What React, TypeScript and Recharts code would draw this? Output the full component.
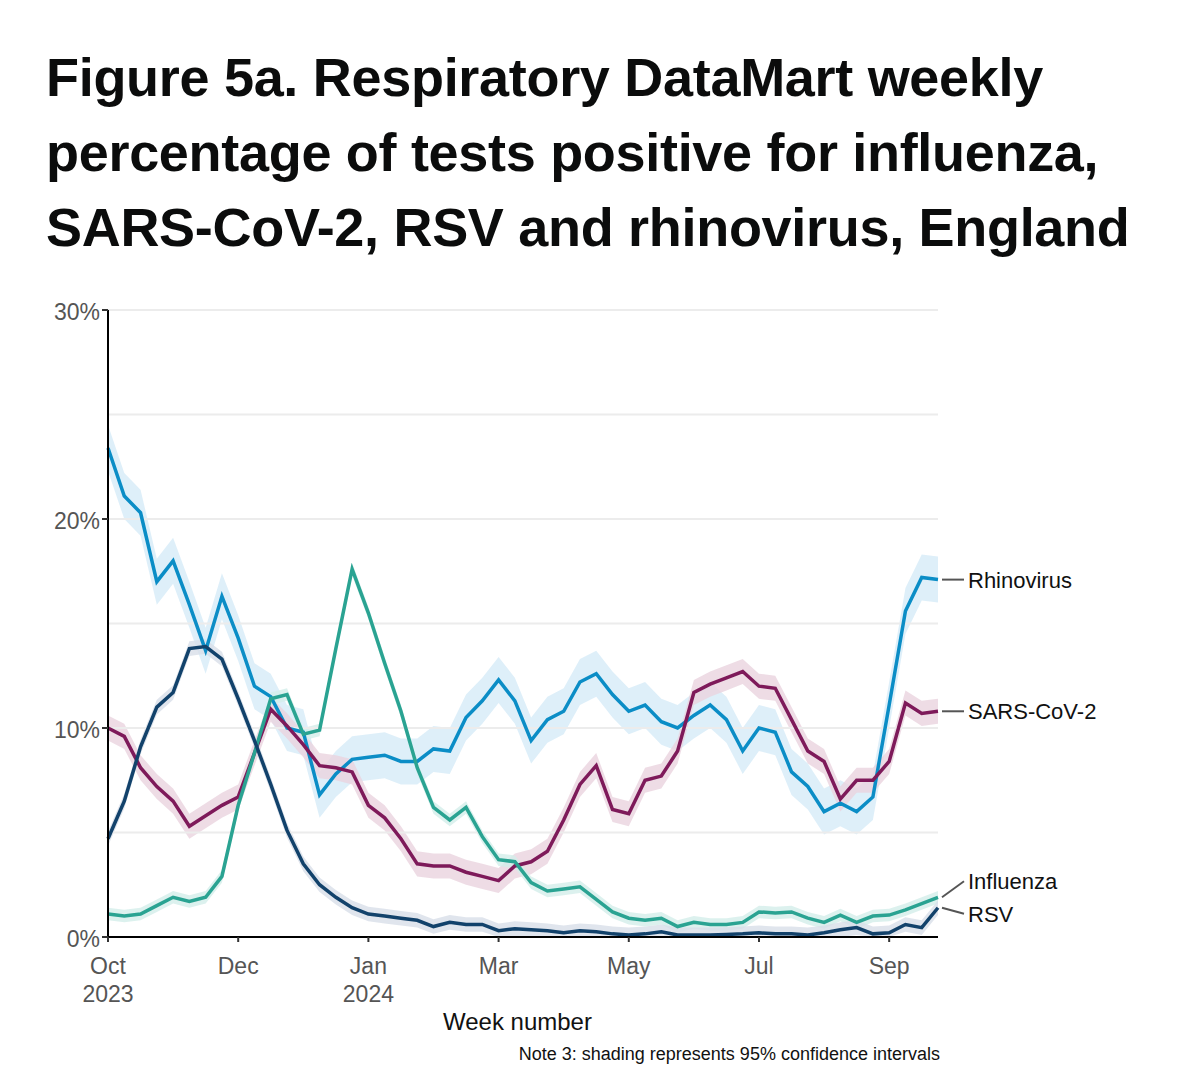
import React from "react";
import {
  ComposedChart,
  Line,
  Area,
  XAxis,
  YAxis,
  ReferenceLine,
} from "recharts";

// weekly percentage positive, week 0 = start of Oct 2023
const rhinovirus = [
  23.4, 21.1, 20.3, 17.0, 18.0, 15.9, 13.7, 16.3, 14.3, 12.0, 11.5, 10.0, 9.8,
  6.8, 7.8, 8.5, 8.6, 8.7, 8.4, 8.4, 9.0, 8.9, 10.5, 11.3, 12.3, 11.3, 9.4,
  10.4, 10.8, 12.2, 12.6, 11.6, 10.8, 11.1, 10.3, 10.0, 10.6, 11.1, 10.4, 8.9,
  10.0, 9.8, 7.9, 7.2, 6.0, 6.4, 6.0, 6.7, 11.1, 15.6, 17.2, 17.1,
];
const sarsCov2 = [
  10.0, 9.6, 8.1, 7.2, 6.5, 5.3, 5.8, 6.3, 6.7, 8.8, 10.9, 10.1, 9.2, 8.2,
  8.1, 7.9, 6.3, 5.7, 4.7, 3.5, 3.4, 3.4, 3.1, 2.9, 2.7, 3.4, 3.6, 4.1, 5.6,
  7.3, 8.2, 6.1, 5.9, 7.5, 7.7, 8.9, 11.7, 12.1, 12.4, 12.7, 12.0, 11.9, 10.4,
  8.9, 8.4, 6.6, 7.5, 7.5, 8.4, 11.2, 10.7, 10.8,
];
const influenza = [
  1.1, 1.0, 1.1, 1.5, 1.9, 1.7, 1.9, 2.9, 6.3, 8.8, 11.4, 11.6, 9.7, 9.9, 13.8,
  17.6, 15.5, 13.1, 10.8, 8.1, 6.2, 5.6, 6.2, 4.8, 3.7, 3.6, 2.6, 2.2, 2.3,
  2.4, 1.8, 1.2, 0.9, 0.8, 0.9, 0.5, 0.7, 0.6, 0.6, 0.7, 1.2, 1.15, 1.2, 0.9,
  0.7, 1.05, 0.7, 1.0, 1.05, 1.3, 1.6, 1.9,
];
const rsv = [
  4.7, 6.5, 9.1, 11.0, 11.7, 13.8, 13.9, 13.3, 11.4, 9.4, 7.3, 5.1, 3.5, 2.5,
  1.9, 1.4, 1.1, 1.0, 0.9, 0.8, 0.5, 0.7, 0.6, 0.6, 0.3, 0.4, 0.35, 0.3, 0.2,
  0.3, 0.25, 0.15, 0.1, 0.15, 0.25, 0.1, 0.1, 0.1, 0.12, 0.15, 0.2, 0.15, 0.15,
  0.1, 0.2, 0.35, 0.45, 0.15, 0.2, 0.6, 0.45, 1.4,
];
// approximate half-width of 95% confidence intervals
const ciHalf = { rhinovirus: 1.1, sarsCov2: 0.6, influenza: 0.3, rsv: 0.35 };

const monthTicks = [0, 8, 16, 24, 32, 40, 48];
const monthLabels = [
  ["Oct", "2023"],
  ["Dec"],
  ["Jan", "2024"],
  ["Mar"],
  ["May"],
  ["Jul"],
  ["Sep"],
];
const yTicks = [0, 10, 20, 30];
const gridLines = [5, 10, 15, 20, 25, 30];

const series = [
  { key: "rhinovirus", name: "Rhinovirus", data: rhinovirus, color: "#0b8dc6", band: "#d6ebf7", dy: 0 },
  { key: "sarsCov2", name: "SARS-CoV-2", data: sarsCov2, color: "#7e1a5a", band: "#ead3df", dy: 0 },
  { key: "influenza", name: "Influenza", data: influenza, color: "#2aa392", band: "#d3eeea", dy: -16 },
  { key: "rsv", name: "RSV", data: rsv, color: "#12426b", band: "#d8dfe8", dy: 6 },
];

const rows = rhinovirus.map((_, i) => {
  const r: any = { week: i };
  series.forEach((s) => {
    const w = (ciHalf as any)[s.key];
    r[s.key] = s.data[i];
    r[s.key + "Band"] = [Math.max(0, s.data[i] - w), s.data[i] + w];
  });
  return r;
});

const font = "'Liberation Sans', Arial, sans-serif";
const last = rhinovirus.length - 1;

function XTick(props: any) {
  const { x, y, payload } = props;
  const lines = monthLabels[monthTicks.indexOf(payload.value)] || [];
  return (
    <text x={x} y={y + 8} textAnchor="middle" fill="#555" fontSize={23} fontFamily={font}>
      {lines.map((l, i) => (
        <tspan key={i} x={x} dy={i === 0 ? 22 : 28}>
          {l}
        </tspan>
      ))}
    </text>
  );
}

function endLabel(name: string, dy: number) {
  return (p: any) => {
    if (p.index !== last) return null;
    const x = p.x + 4;
    const y = p.y;
    return (
      <g>
        <line x1={x} y1={y} x2={x + 22} y2={y + dy} stroke="#555" strokeWidth={2} />
        <text x={x + 26} y={y + dy + 8} fontSize={22} fontFamily={font} fill="#111">
          {name}
        </text>
      </g>
    );
  };
}

export default function App() {
  return (
    <div style={{ position: "absolute", left: 0, top: 0, width: 1179, height: 1085, background: "#fff", fontFamily: font }}>
      <div
        style={{
          position: "absolute",
          left: 46,
          top: 40,
          fontSize: 54,
          fontWeight: 700,
          lineHeight: "75px",
          color: "#0b0c0c",
          letterSpacing: -0.3,
          whiteSpace: "nowrap",
        }}
      >
        Figure 5a. Respiratory DataMart weekly
        <br />
        percentage of tests positive for influenza,
        <br />
        SARS-CoV-2, RSV and rhinovirus, England
      </div>
      <div style={{ position: "absolute", left: 0, top: 0 }}>
        <ComposedChart
          width={1179}
          height={1085}
          data={rows}
          margin={{ top: 310, left: 107, right: 241, bottom: 147 }}
        >
          {gridLines.map((g) => (
            <ReferenceLine key={g} y={g} stroke="#ececec" strokeWidth={2} />
          ))}
          <XAxis
            dataKey="week"
            type="number"
            domain={[0, last]}
            ticks={monthTicks}
            tick={<XTick />}
            height={1}
            stroke="#000"
            strokeWidth={2}
            tickLine={{ stroke: "#333" }}
            tickSize={5}
            interval={0}
          />
          <YAxis
            domain={[0, 30]}
            ticks={yTicks}
            tickFormatter={(v) => v + "%"}
            width={1}
            stroke="#000"
            strokeWidth={2}
            tick={{ fill: "#555", fontSize: 23, fontFamily: font, dy: 2 }}
            tickSize={6}
            tickLine={{ stroke: "#333" }}
          />
          {series.map((s) => (
            <Area
              key={s.key + "b"}
              dataKey={s.key + "Band"}
              fill={s.band}
              fillOpacity={0.8}
              stroke="none"
              isAnimationActive={false}
            />
          ))}
          {series.map((s) => (
            <Line
              key={s.key}
              dataKey={s.key}
              stroke={s.color}
              strokeWidth={3.5}
              dot={false}
              isAnimationActive={false}
              label={endLabel(s.name, s.dy)}
            />
          ))}
        </ComposedChart>
      </div>
      <div style={{ position: "absolute", left: 443, top: 1008, fontSize: 24, color: "#111" }}>
        Week number
      </div>
      <div style={{ position: "absolute", right: 1179 - 940, top: 1044, fontSize: 18, color: "#111" }}>
        Note 3: shading represents 95% confidence intervals
      </div>
    </div>
  );
}
